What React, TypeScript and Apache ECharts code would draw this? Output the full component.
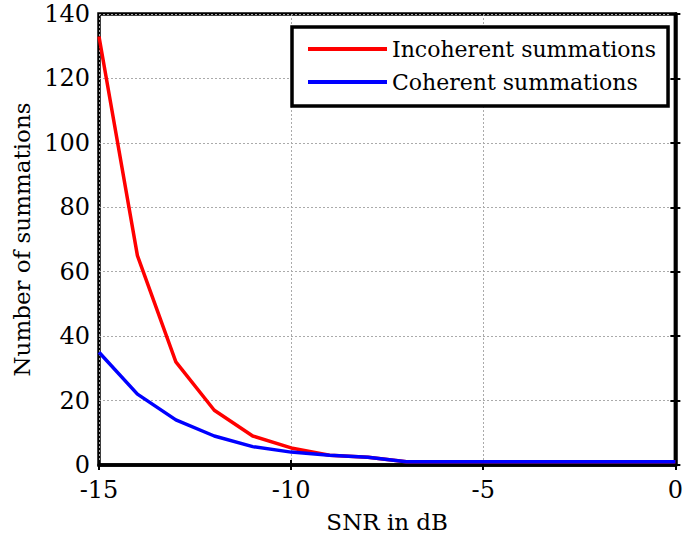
import React, { useEffect, useRef } from "react";
import * as echarts from "echarts";

const snr = [-15, -14, -13, -12, -11, -10, -9, -8, -7, -6, -5, -4, -3, -2, -1, 0];
const incoherent = [133, 65, 32, 17, 9, 5.3, 3, 2.4, 1, 1, 1, 1, 1, 1, 1, 1];
const coherent = [35, 22, 14, 9, 5.7, 4, 3, 2.4, 1, 1, 1, 1, 1, 1, 1, 1];
const xTicks = [-15, -10, -5, 0];
const yTicks = [0, 20, 40, 60, 80, 100, 120, 140];

const FONT = "DejaVu Serif";

export default function App() {
  const ref = useRef<HTMLDivElement>(null);
  useEffect(() => {
    const chart = echarts.init(ref.current!, null, { renderer: "svg" });
    const pair = (xs: number[], ys: number[]) => xs.map((x, i) => [x, ys[i]]);
    const axisTick = { show: true, inside: true, length: 5, lineStyle: { color: "#000", width: 2 } };
    const split = { show: true, lineStyle: { color: "#aaa", type: [2, 2] as any, width: 1 } };
    chart.setOption({
      animation: false,
      backgroundColor: "#fff",
      grid: { left: 99, right: 3, top: 14, bottom: 73, show: true, borderColor: "#000", borderWidth: 3.5, backgroundColor: "transparent" },
      legend: {
        orient: "vertical",
        left: 292,
        top: 27,
        itemWidth: 79,
        itemHeight: 4,
        itemGap: 11,
        itemTextGap: 9,
        icon: "rect",
        padding: [11, 12, 13, 16],
        borderColor: "#000",
        borderWidth: 3.5,
        backgroundColor: "#fff",
        textStyle: { fontFamily: FONT, fontSize: 22, color: "#000" },
        data: ["Incoherent summations", "Coherent summations"],
      },
      xAxis: [
        {
          type: "value",
          min: -15,
          max: 0,
          interval: 5,
          position: "bottom",
          axisLine: { show: true, onZero: false, lineStyle: { color: "#000", width: 3.5 } },
          axisTick,
          splitLine: split,
          axisLabel: { fontFamily: FONT, fontSize: 24, lineHeight: 24, color: "#000", margin: 13, formatter: (v: number) => (xTicks.includes(v) ? String(v) : "") },
          name: "SNR in dB",
          nameLocation: "middle",
          nameGap: 45,
          nameTextStyle: { fontFamily: FONT, fontSize: 23, color: "#000" },
        },
        {
          type: "value",
          min: -15,
          max: 0,
          interval: 5,
          position: "top",
          axisLine: { show: false },
          axisTick,
          splitLine: { show: false },
          axisLabel: { show: false },
        },
      ],
      yAxis: [
        {
          type: "value",
          min: 0,
          max: 140,
          interval: 20,
          axisLine: { show: true, lineStyle: { color: "#000", width: 3.5 } },
          axisTick,
          splitLine: split,
          axisLabel: { fontFamily: FONT, fontSize: 24, lineHeight: 20, color: "#000", margin: 9, formatter: (v: number) => (yTicks.includes(v) ? String(v) : "") },
          name: "Number of summations",
          nameLocation: "middle",
          nameGap: 66,
          nameTextStyle: { fontFamily: FONT, fontSize: 23, color: "#000" },
        },
        {
          type: "value",
          min: 0,
          max: 140,
          interval: 20,
          position: "right",
          axisLine: { show: false },
          axisTick,
          splitLine: { show: false },
          axisLabel: { show: false },
        },
      ],
      series: [
        {
          name: "Incoherent summations",
          type: "line",
          data: pair(snr, incoherent),
          showSymbol: false,
          symbol: "none",
          lineStyle: { color: "#ff0000", width: 3.5 },
          itemStyle: { color: "#ff0000" },
        },
        {
          name: "Coherent summations",
          type: "line",
          data: pair(snr, coherent),
          showSymbol: false,
          symbol: "none",
          lineStyle: { color: "#0000ff", width: 3.5 },
          itemStyle: { color: "#0000ff" },
        },
      ],
    });
    return () => chart.dispose();
  }, []);
  return <div ref={ref} style={{ width: 686, height: 538, position: "absolute", left: 0, top: 0 }} />;
}
